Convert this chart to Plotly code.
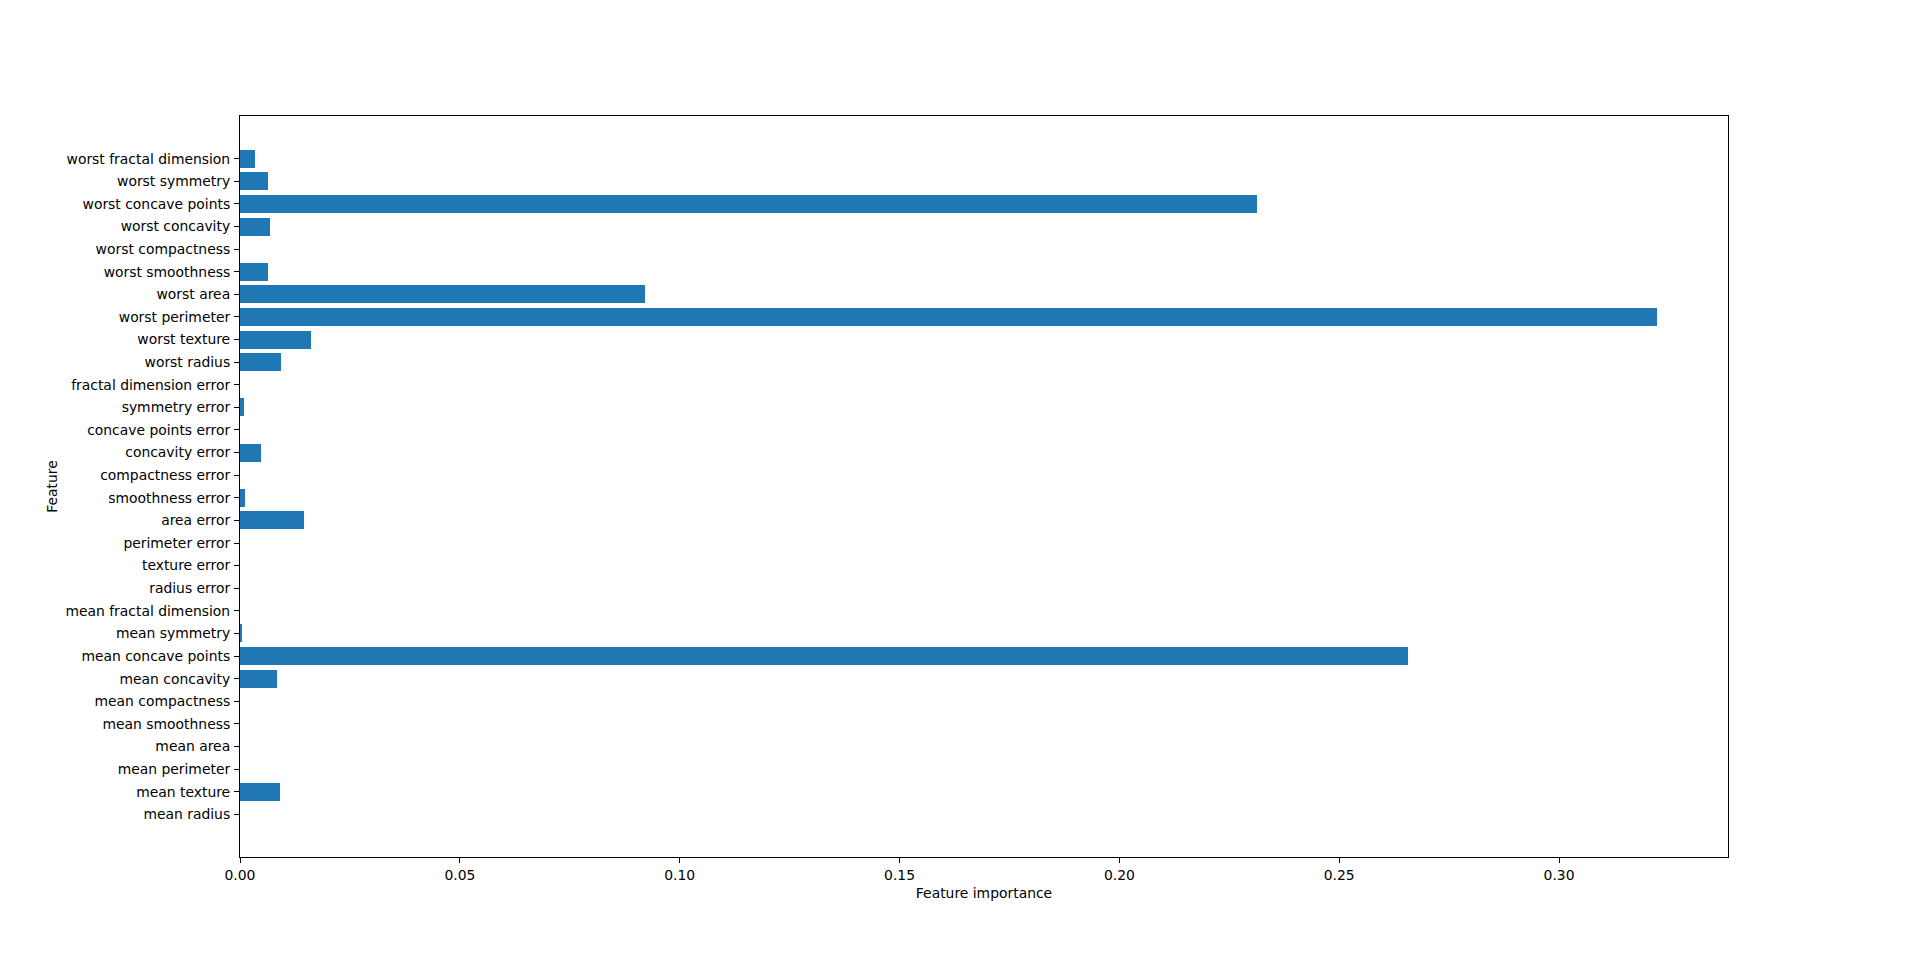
import plotly.graph_objects as go

features = [
    "mean radius", "mean texture", "mean perimeter", "mean area", "mean smoothness",
    "mean compactness", "mean concavity", "mean concave points", "mean symmetry",
    "mean fractal dimension", "radius error", "texture error", "perimeter error",
    "area error", "smoothness error", "compactness error", "concavity error",
    "concave points error", "symmetry error", "fractal dimension error",
    "worst radius", "worst texture", "worst perimeter", "worst area",
    "worst smoothness", "worst compactness", "worst concavity",
    "worst concave points", "worst symmetry", "worst fractal dimension",
]
importance = [
    0.0, 0.0091, 0.0, 0.0, 0.0,
    0.0, 0.0084, 0.2657, 0.0005,
    0.0, 0.0, 0.0, 0.0,
    0.0146, 0.0011, 0.0, 0.0048,
    0.0, 0.0009, 0.0,
    0.0093, 0.0162, 0.3223, 0.0922,
    0.0064, 0.0, 0.0068,
    0.2312, 0.0064, 0.0034,
]
x_ticks = [0.0, 0.05, 0.10, 0.15, 0.20, 0.25, 0.30]
x_tick_labels = ["0.00", "0.05", "0.10", "0.15", "0.20", "0.25", "0.30"]

positions = list(range(len(features)))
n = len(features)
xmax = max(importance) * 1.05
span = (n - 1) + 0.8
ylo = -0.4 - 0.05 * span
yhi = (n - 1) + 0.4 + 0.05 * span

font = dict(family="DejaVu Sans", size=13.9, color="black")

fig = go.Figure(
    go.Bar(
        x=importance,
        y=positions,
        orientation="h",
        width=0.8,
        marker=dict(color="#1f77b4", line=dict(width=0)),
    )
)

# page body has an 8px margin, so the figure is sized/offset to compensate
fig.update_layout(
    width=1904,
    height=947,
    margin=dict(l=232, r=184, t=108, b=98, autoexpand=False),
    paper_bgcolor="white",
    plot_bgcolor="white",
    font=font,
    showlegend=False,
    bargap=0,
)
fig.update_xaxes(
    range=[0, xmax],
    tickvals=x_ticks,
    ticktext=x_tick_labels,
    ticks="outside",
    ticklen=5,
    tickwidth=1.1,
    tickcolor="black",
    showline=True,
    linecolor="black",
    linewidth=1.1,
    mirror=True,
    showgrid=False,
    zeroline=False,
    title=dict(text="Feature importance", font=font, standoff=6),
    automargin=False,
)
fig.update_yaxes(
    range=[ylo, yhi],
    tickvals=positions,
    ticktext=features,
    ticks="outside",
    ticklen=5,
    tickwidth=1.1,
    tickcolor="black",
    ticklabelstandoff=1,
    showline=True,
    linecolor="black",
    linewidth=1.1,
    mirror=True,
    showgrid=False,
    zeroline=False,
    title=dict(text="Feature", font=font, standoff=4),
    automargin=False,
)

fig.write_html("out.html")
